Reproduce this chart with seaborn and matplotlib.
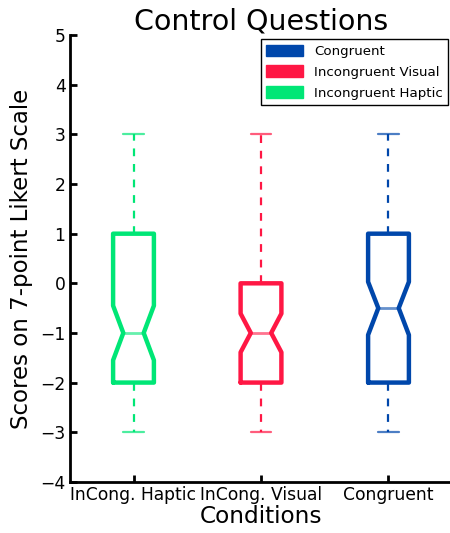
import matplotlib
matplotlib.use("Agg")
import matplotlib.pyplot as plt
import matplotlib.patches as mpatches
import seaborn as sns

categories = ["InCong. Haptic", "InCong. Visual", "Congruent"]
colors = ["#00E676", "#FF1744", "#0047AB"]
whis_lo = [-3, -3, -3]
q1 = [-2, -2, -2]
medians = [-1, -1, -0.5]
q3 = [1, 0, 1]
whis_hi = [3, 3, 3]
ci_lo = [-1.55, -1.39, -1.04]
ci_hi = [-0.45, -0.61, 0.03]
legend_labels = ["Congruent", "Incongruent Visual", "Incongruent Haptic"]
legend_colors = ["#0047AB", "#FF1744", "#00E676"]
yticks = [-4, -3, -2, -1, 0, 1, 2, 3, 4, 5]

sns.set_style("ticks")
plt.rcParams["font.family"] = ["DejaVu Sans"]
plt.rcParams["text.color"] = "black"
plt.rcParams["axes.labelcolor"] = "black"
plt.rcParams["xtick.color"] = "black"
plt.rcParams["ytick.color"] = "black"

fig = plt.figure(figsize=(4.5, 5.33), dpi=100)
ax = fig.add_axes([0.155, 0.096, 0.85, 0.838])

for i, cat in enumerate(categories):
    stats = [dict(label=cat, whislo=whis_lo[i], q1=q1[i], med=medians[i], q3=q3[i],
                  whishi=whis_hi[i], cilo=ci_lo[i], cihi=ci_hi[i], fliers=[])]
    c = colors[i]
    ax.bxp(stats, positions=[i + 1], widths=0.32, shownotches=True, showfliers=False,
           boxprops=dict(color=c, linewidth=3.2),
           whiskerprops=dict(color=c, linewidth=1.6, linestyle=(0, (3.5, 3.5))),
           capprops=dict(color=c, linewidth=1.6, alpha=0.7),
           medianprops=dict(color=c, linewidth=2.0, alpha=0.6),
           manage_ticks=False)

ax.set_xlim(0.5, 3.5)
ax.set_ylim(-4, 5)
ax.set_xticks([1, 2, 3])
ax.set_xticklabels(categories, fontsize=12.3)
ax.set_yticks(yticks)
ax.set_yticklabels([str(t).replace("-", "\u2212") for t in yticks], fontsize=12.3)
ax.tick_params(direction="in", length=5, width=2, colors="black", pad=3)
for s in ["top", "right"]:
    ax.spines[s].set_visible(False)
for s in ["left", "bottom"]:
    ax.spines[s].set_linewidth(2)
    ax.spines[s].set_color("black")

ax.set_title("Control Questions", fontsize=20.5, pad=4, color="black")
ax.set_xlabel("Conditions", fontsize=16.7, labelpad=1, color="black")
ax.set_ylabel("Scores on 7-point Likert Scale", fontsize=16.5, labelpad=5, color="black")

handles = [mpatches.Patch(facecolor=c, edgecolor=c, label=l) for c, l in zip(legend_colors, legend_labels)]
leg = ax.legend(handles=handles, loc="upper right", fontsize=9.6, frameon=True, fancybox=False,
                edgecolor="black", framealpha=1, borderaxespad=0.3, handlelength=2.8,
                handleheight=1.0, labelspacing=0.55)
leg.get_frame().set_linewidth(1.0)
for t in leg.get_texts():
    t.set_color("black")

fig.savefig("out.png", dpi=100)
